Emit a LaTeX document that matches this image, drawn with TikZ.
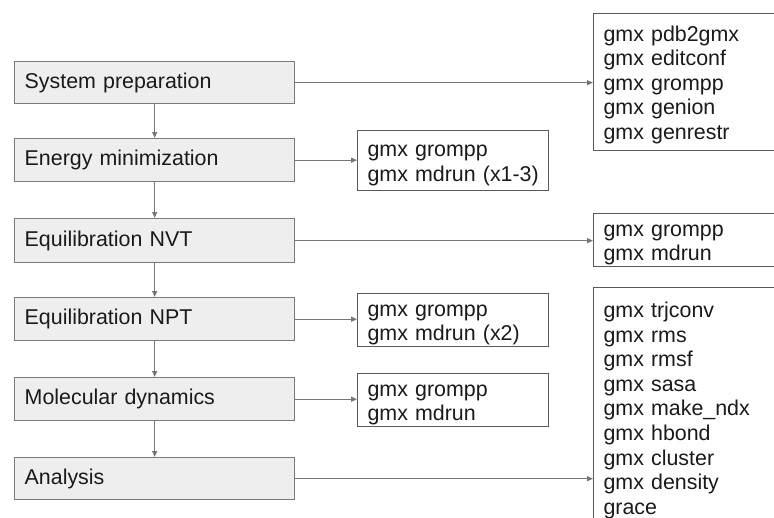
\documentclass[tikz,border=0pt]{standalone}
\usepackage{fontspec}
\setmainfont{Liberation Sans}
\usetikzlibrary{arrows.meta}
\definecolor{stepfill}{HTML}{EEEEEE}
\definecolor{stepline}{HTML}{7A7A7A}
\definecolor{listline}{HTML}{5A5A5A}
\definecolor{arrline}{HTML}{777777}
\definecolor{txt}{HTML}{1A1A1A}
\newcommand\topstrut{\rule{0pt}{21pt}}
\newcommand\botstrut{\rule[-3pt]{0pt}{3pt}}
\tikzset{
  stepbox/.style={draw=stepline, fill=stepfill, line width=1.4pt, anchor=north west,
    minimum width=280pt, text width=260pt, inner xsep=10pt, inner ysep=0pt, align=left,
    font=\fontsize{21.4}{24.6}\selectfont, text=txt},
  listbox/.style={draw=listline, fill=white, line width=1.1pt, anchor=north west,
    inner xsep=10pt, inner ysep=0pt, align=left,
    font=\fontsize{21.4}{24.6}\selectfont, text=txt},
  arr/.style={draw=arrline, line width=1.2pt, -{Triangle[length=6pt,width=5pt]}}
}
\begin{document}
\begin{tikzpicture}[x=1pt,y=-1pt]
\useasboundingbox (0,0) rectangle (774,517);
\clip (0,0) rectangle (774,517);
\fill[white] (0,0) rectangle (774,517);
% left steps
\node[stepbox, minimum height=42pt] (sp) at (14,61) {System preparation};
\node[stepbox, minimum height=43pt] (em) at (14,138) {Energy minimization};
\node[stepbox, minimum height=44pt] (nvt) at (14,218) {Equilibration NVT};
\node[stepbox, minimum height=43pt] (npt) at (14,297) {Equilibration NPT};
\node[stepbox, minimum height=43pt] (md) at (14,377) {Molecular dynamics};
\node[stepbox, minimum height=42pt] (an) at (14,457) {Analysis};
% command lists
\node[listbox, minimum width=230pt, text width=210pt, minimum height=137pt] (spl) at (593,13)
  {\topstrut gmx pdb2gmx\\gmx editconf\\gmx grompp\\gmx genion\\gmx genrestr\botstrut};
\node[listbox, minimum width=191pt, text width=171pt, minimum height=60pt] (eml) at (357,130)
  {\topstrut gmx grompp\\\mbox{gmx mdrun (x1-3)}\botstrut};
\node[listbox, minimum width=230pt, text width=210pt, minimum height=53pt] (nvtl) at (593,213)
  {\topstrut gmx grompp\\gmx mdrun\botstrut};
\node[listbox, minimum width=191pt, text width=171pt, minimum height=53pt] (nptl) at (357,293)
  {\topstrut gmx grompp\\gmx mdrun (x2)\botstrut};
\node[listbox, minimum width=191pt, text width=171pt, minimum height=53pt] (mdl) at (357,373)
  {\topstrut gmx grompp\\gmx mdrun\botstrut};
\node[listbox, minimum width=230pt, text width=210pt, minimum height=240pt] (anl) at (593,287)
  {\topstrut gmx trjconv\\gmx rms\\gmx rmsf\\gmx sasa\\gmx make\_ndx\\gmx hbond\\gmx cluster\\gmx density\\grace\botstrut};
% vertical flow
\draw[arr] (sp.south) -- (em.north);
\draw[arr] (em.south) -- (nvt.north);
\draw[arr] (nvt.south) -- (npt.north);
\draw[arr] (npt.south) -- (md.north);
\draw[arr] (md.south) -- (an.north);
% horizontal
\draw[arr] (sp.east) -- (sp.east -| spl.west);
\draw[arr] (em.east) -- (em.east -| eml.west);
\draw[arr] (nvt.east) -- (nvt.east -| nvtl.west);
\draw[arr] (npt.east) -- (npt.east -| nptl.west);
\draw[arr] (md.east) -- (md.east -| mdl.west);
\draw[arr] (an.east) -- (an.east -| anl.west);
\end{tikzpicture}
\end{document}
